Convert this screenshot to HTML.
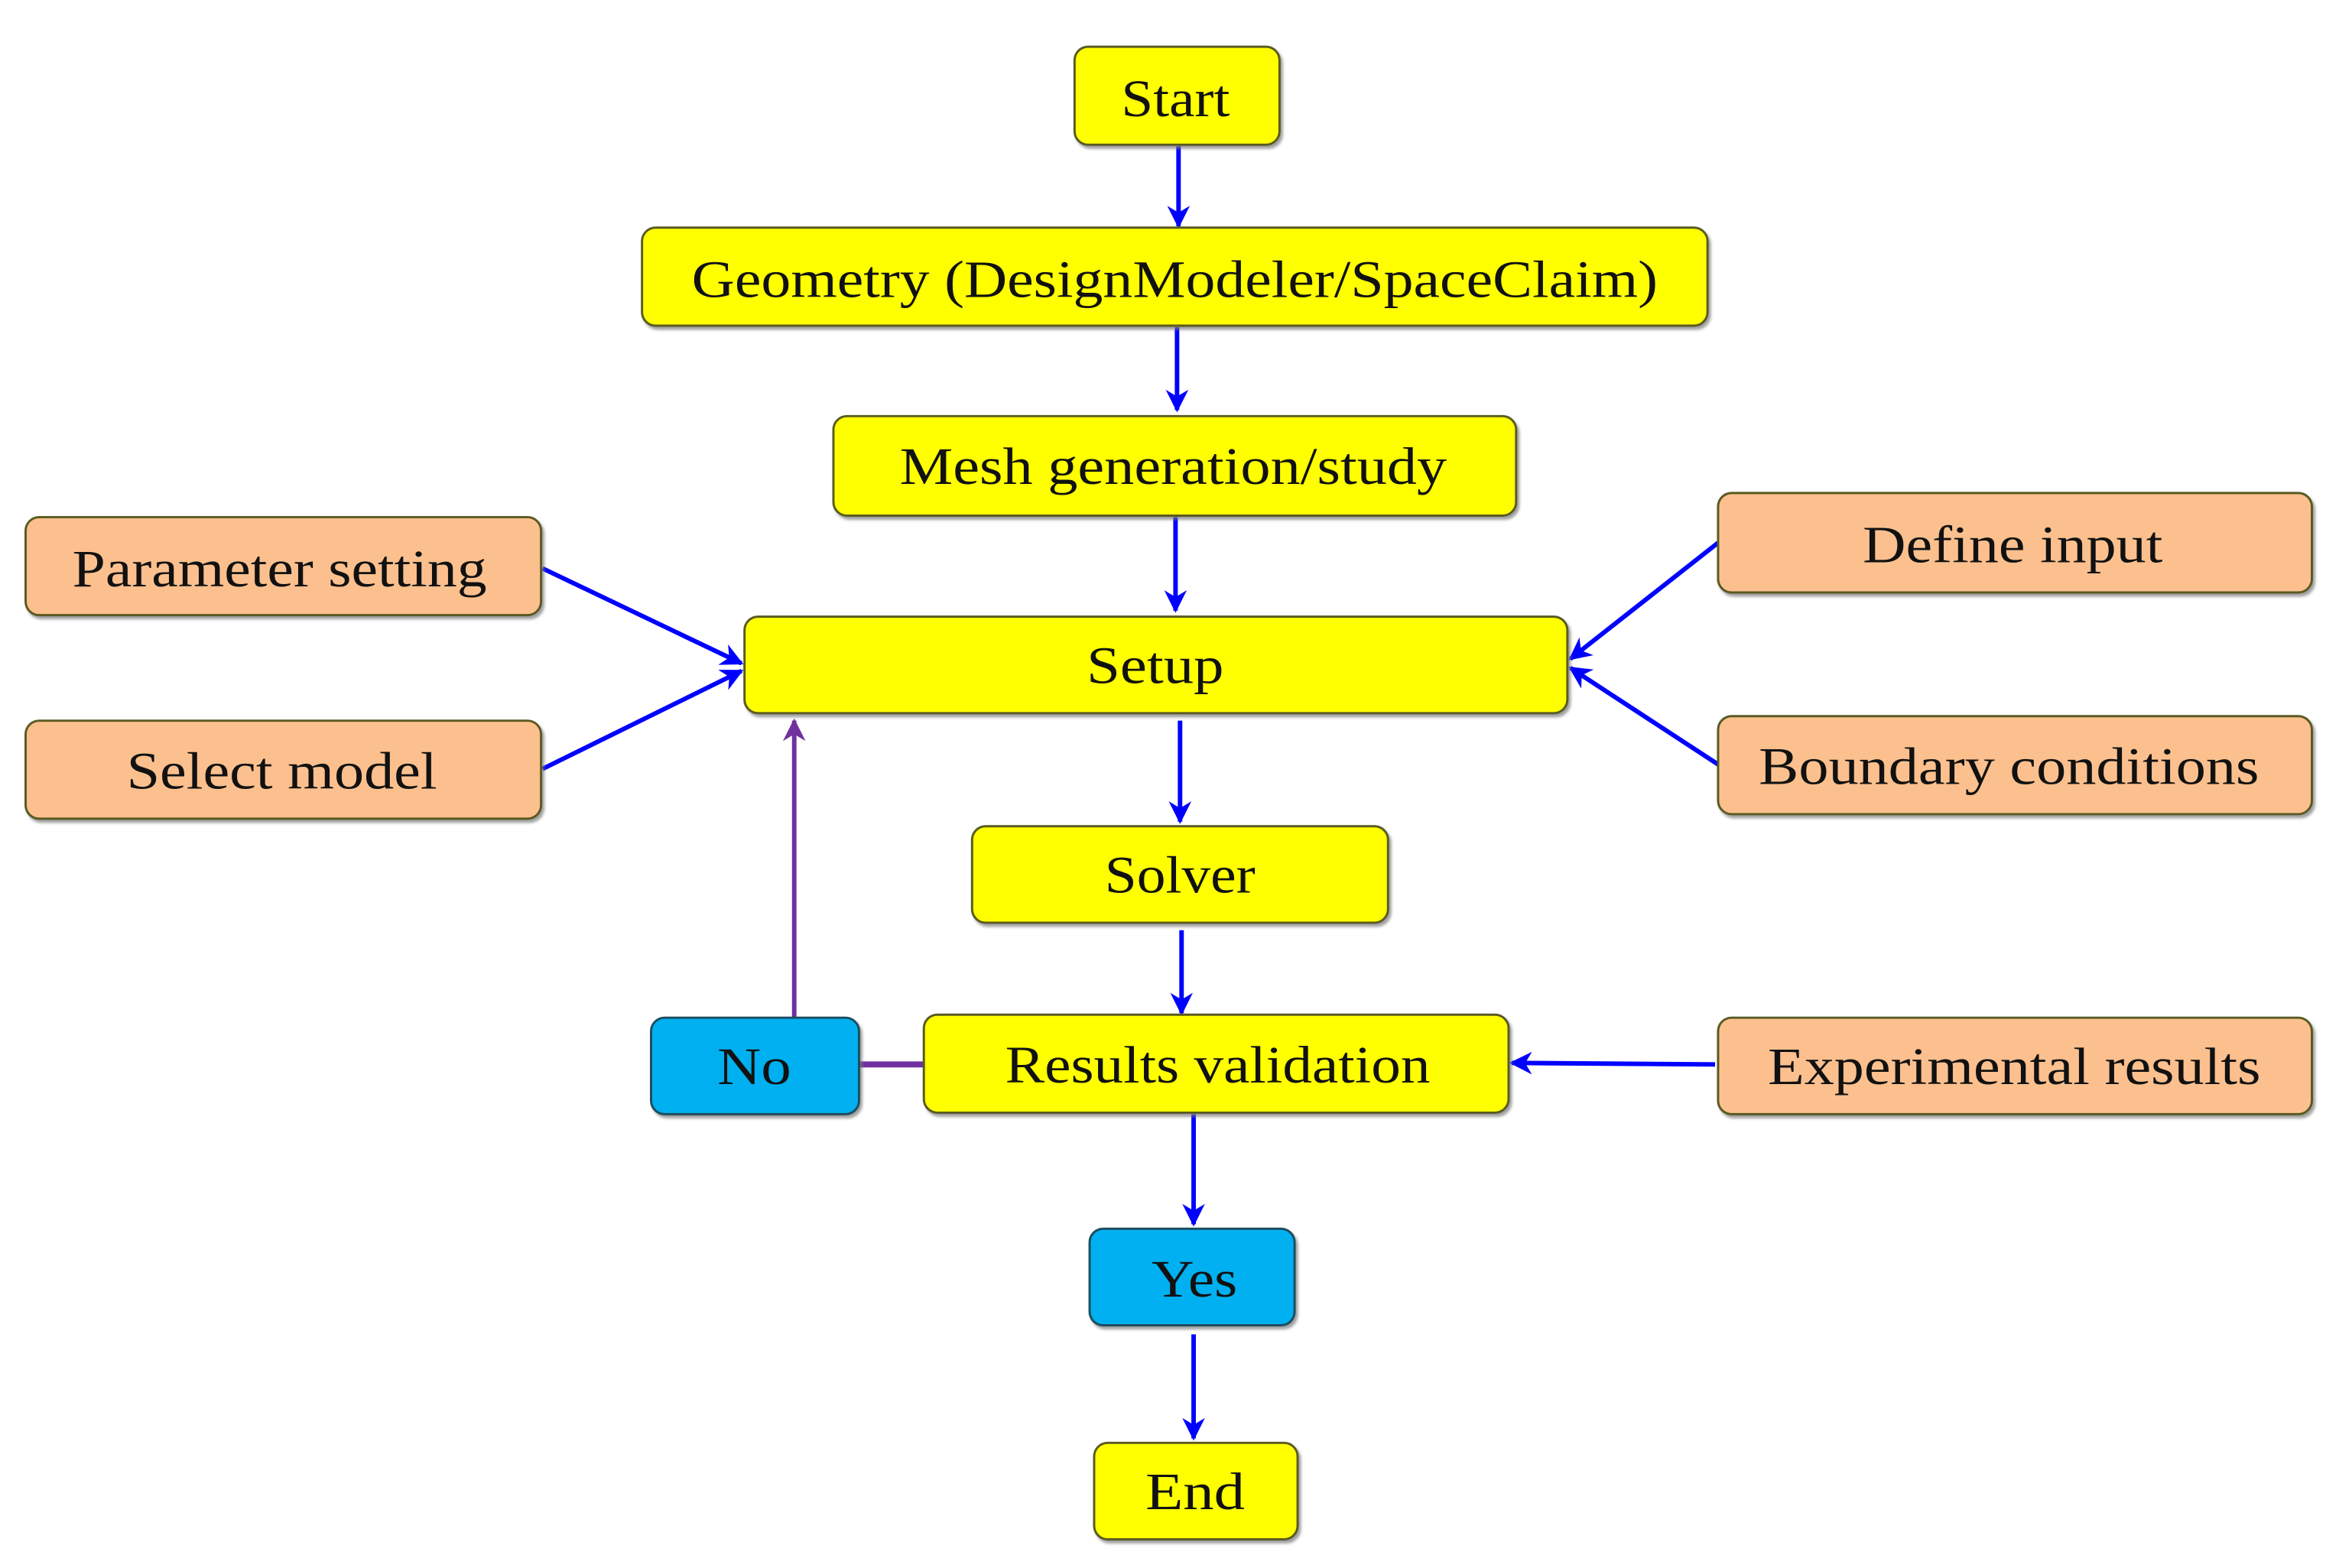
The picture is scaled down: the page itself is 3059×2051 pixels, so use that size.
<!DOCTYPE html>
<html><head><meta charset="utf-8"><style>html,body{margin:0;padding:0;background:#fff}svg{display:block}</style></head>
<body>
<svg width="3059" height="2051" viewBox="0 0 1552 1040" preserveAspectRatio="none" xmlns="http://www.w3.org/2000/svg" font-family="Liberation Serif, serif" font-size="35">
<defs>
<marker id="a" viewBox="0 0 10 10" refX="9" refY="5" markerWidth="5" markerHeight="5" orient="auto"><path d="M0,0 L10,5 L0,10 L3,5 z" fill="#0000ff"/></marker>
<marker id="p" viewBox="0 0 10 10" refX="9" refY="5" markerWidth="5" markerHeight="5" orient="auto"><path d="M0,0 L10,5 L0,10 L3,5 z" fill="#7030a0"/></marker>
<filter id="s" x="-5%" y="-10%" width="110%" height="130%"><feDropShadow dx="1.5" dy="2" stdDeviation="1" flood-color="#777" flood-opacity="0.7"/></filter>
</defs>
<g stroke="#0000ff" stroke-width="3" fill="none" marker-end="url(#a)">
<line x1="782" y1="97" x2="782" y2="150"/>
<line x1="781" y1="217" x2="781" y2="272"/>
<line x1="780" y1="343" x2="780" y2="405"/>
<line x1="360" y1="377" x2="492" y2="440"/>
<line x1="360" y1="510" x2="492" y2="445"/>
<line x1="1140" y1="360" x2="1042" y2="437"/>
<line x1="1140" y1="507" x2="1042" y2="443"/>
<line x1="783" y1="478" x2="783" y2="545"/>
<line x1="784" y1="617" x2="784" y2="672"/>
<line x1="792" y1="739" x2="792" y2="812"/>
<line x1="792" y1="885" x2="792" y2="954"/>
<line x1="1138" y1="706" x2="1003" y2="705"/>
</g>
<line x1="527" y1="675" x2="527" y2="478" stroke="#7030a0" stroke-width="3" marker-end="url(#p)"/>
<line x1="570" y1="706" x2="614" y2="706" stroke="#7030a0" stroke-width="4"/>
<g stroke="#5a5a20" stroke-width="1.5" filter="url(#s)">
<rect x="713" y="31" width="136" height="65" rx="9" fill="#ffff00"/>
<rect x="426" y="151" width="707" height="65" rx="9" fill="#ffff00"/>
<rect x="553" y="276" width="453" height="66" rx="9" fill="#ffff00"/>
<rect x="494" y="409" width="546" height="64" rx="9" fill="#ffff00"/>
<rect x="645" y="548" width="276" height="64" rx="9" fill="#ffff00"/>
<rect x="613" y="673" width="388" height="65" rx="9" fill="#ffff00"/>
<rect x="726" y="957" width="135" height="64" rx="9" fill="#ffff00"/>
<rect x="17" y="343" width="342" height="65" rx="9" fill="#fbc08e"/>
<rect x="17" y="478" width="342" height="65" rx="9" fill="#fbc08e"/>
<rect x="1140" y="327" width="394" height="66" rx="9" fill="#fbc08e"/>
<rect x="1140" y="475" width="394" height="65" rx="9" fill="#fbc08e"/>
<rect x="1140" y="675" width="394" height="64" rx="9" fill="#fbc08e"/>
<rect x="432" y="675" width="138" height="64" rx="9" fill="#00b0f0" stroke="#1f4e5f"/>
<rect x="723" y="815" width="136" height="64" rx="9" fill="#00b0f0" stroke="#1f4e5f"/>
</g>
<g fill="#111" text-anchor="start" lengthAdjust="spacingAndGlyphs">
<text x="744" y="77" textLength="72" lengthAdjust="spacingAndGlyphs">Start</text>
<text x="459" y="197" textLength="641" lengthAdjust="spacingAndGlyphs">Geometry (DesignModeler/SpaceClaim)</text>
<text x="597" y="321" textLength="363" lengthAdjust="spacingAndGlyphs">Mesh generation/study</text>
<text x="721" y="453" textLength="91" lengthAdjust="spacingAndGlyphs">Setup</text>
<text x="733" y="592" textLength="100" lengthAdjust="spacingAndGlyphs">Solver</text>
<text x="667" y="718" textLength="282" lengthAdjust="spacingAndGlyphs">Results validation</text>
<text x="760" y="1001" textLength="66" lengthAdjust="spacingAndGlyphs">End</text>
<text x="48" y="389" textLength="275" lengthAdjust="spacingAndGlyphs">Parameter setting</text>
<text x="84" y="523" textLength="206" lengthAdjust="spacingAndGlyphs">Select model</text>
<text x="1236" y="373" textLength="199" lengthAdjust="spacingAndGlyphs">Define input</text>
<text x="1167" y="520" textLength="332" lengthAdjust="spacingAndGlyphs">Boundary conditions</text>
<text x="1173" y="719" textLength="327" lengthAdjust="spacingAndGlyphs">Experimental results</text>
<text x="476" y="719" textLength="49" lengthAdjust="spacingAndGlyphs">No</text>
<text x="764" y="860" textLength="57" lengthAdjust="spacingAndGlyphs">Yes</text>
</g>
</svg>
</body></html>
